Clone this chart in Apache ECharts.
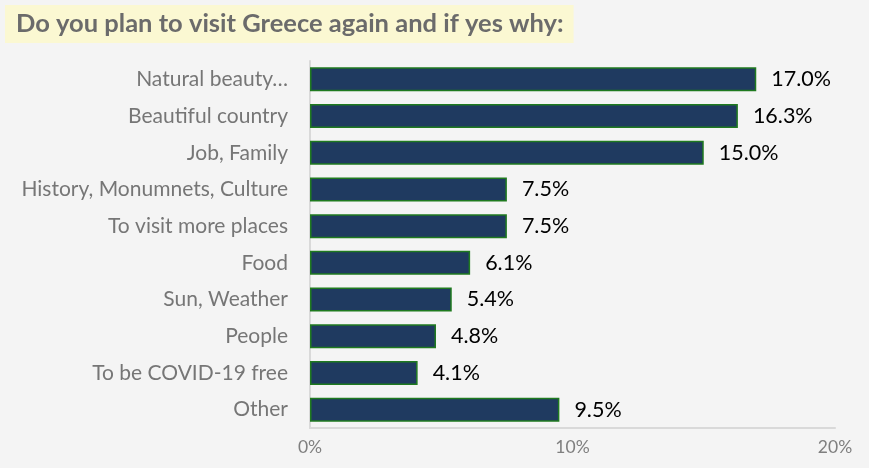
<!DOCTYPE html>
<html>
<head>
<meta charset="utf-8">
<script src="https://cdn.jsdelivr.net/npm/echarts@6/dist/echarts.min.js"></script>
<style>
  html, body { margin: 0; padding: 0; background: #f4f4f4; }
  #chart { width: 869px; height: 468px; }
</style>
</head>
<body>
<div id="chart"></div>
<script>
// Reasons for returning to Greece (share of respondents, %)
const categories = [
  'Natural beauty…',
  'Beautiful country',
  'Job, Family',
  'History, Monumnets, Culture',
  'To visit more places',
  'Food',
  'Sun, Weather',
  'People',
  'To be COVID-19 free',
  'Other'
];
const values = [17.0, 16.3, 15.0, 7.5, 7.5, 6.1, 5.4, 4.8, 4.1, 9.5];
const titleText = 'Do you plan to visit Greece again and if yes why:';

const FONT = 'Lato, "Open Sans", sans-serif';
const chart = echarts.init(document.getElementById('chart'), null, { renderer: 'canvas' });

chart.setOption({
  backgroundColor: '#f4f4f4',
  animation: false,
  title: {
    text: titleText,
    left: 5,
    top: 5,
    padding: [6, 10, 6, 11],
    backgroundColor: '#fbf8d2',
    textStyle: {
      fontFamily: FONT,
      fontWeight: 'bold',
      fontSize: 25.5,
      color: '#6b6b6b'
    }
  },
  grid: {
    left: 310,
    right: 34,
    top: 61,
    bottom: 40,
    containLabel: false
  },
  xAxis: {
    type: 'value',
    min: 0,
    max: 20,
    interval: 10,
    axisLine: { show: true, lineStyle: { color: '#d9d9d9', width: 2 } },
    axisTick: { show: false },
    splitLine: { show: false },
    axisLabel: {
      formatter: v => v + '%',
      fontFamily: FONT,
      fontSize: 17.5,
      color: '#7f7f7f',
      margin: 10
    }
  },
  yAxis: {
    type: 'category',
    inverse: true,
    data: categories,
    axisLine: { show: true, lineStyle: { color: '#d9d9d9', width: 2 } },
    axisTick: { show: false },
    axisLabel: {
      fontFamily: FONT,
      fontSize: 21,
      color: '#767676',
      margin: 22
    }
  },
  series: [{
    type: 'bar',
    data: values,
    barWidth: 24,
    itemStyle: {
      color: '#1f3a60',
      borderColor: '#1f7a1f',
      borderWidth: 1.5
    },
    label: {
      show: true,
      position: 'right',
      distance: 15,
      formatter: p => p.value.toFixed(1) + '%',
      fontFamily: FONT,
      fontSize: 21.5,
      color: '#000000'
    }
  }]
});
</script>
</body>
</html>
